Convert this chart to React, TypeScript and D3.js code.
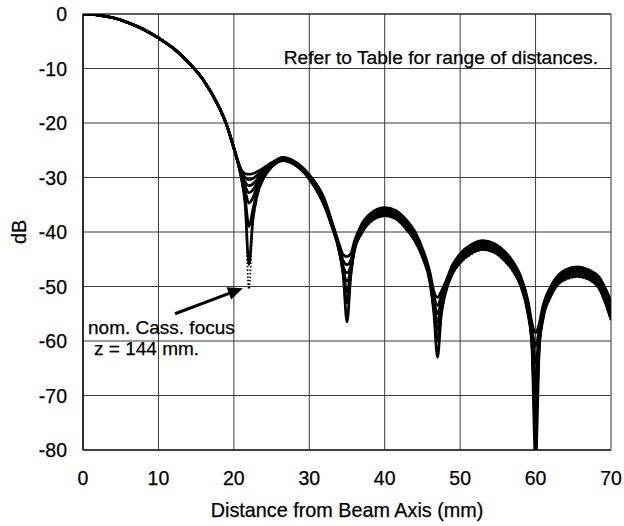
import React from "react";
import * as d3 from "d3";

// ---------- data ----------
const DIST = [0, 2, 4, 6, 8, 10, 12, 14, 16, 18, 19, 20, 20.5, 21, 21.5, 22, 22.5, 23, 24, 25, 26.5, 28, 30, 32, 33, 34, 34.5, 35, 35.5, 36, 37, 38.5, 40, 41.5, 43, 44, 45, 46, 46.5, 47, 47.5, 48, 49, 50, 51.5, 53, 54.5, 56, 57, 58, 59, 59.5, 60, 60.5, 61, 62, 63, 64, 65.5, 67, 68.5, 70];

const S1 = [0, -0.2, -0.7, -1.6, -2.8, -4.4, -6.3, -8.9, -12.2, -17.0, -20.2, -24.6, -26.8, -28.6, -29.3, -29.4, -29.3, -29.0, -28.2, -27.3, -26.3, -27.0, -29.5, -33.9, -38.1, -42.4, -44.2, -44.5, -44.0, -41.6, -38.4, -36.2, -35.5, -36.1, -38.0, -39.9, -43.0, -47.4, -50.8, -52.0, -50.9, -49.4, -46.0, -44.0, -42.3, -41.6, -42.1, -43.7, -45.4, -48.0, -52.6, -56.5, -58.5, -56.7, -53.4, -50.0, -47.9, -46.9, -46.4, -46.9, -48.4, -52.7];
const S2 = [0, -0.2, -0.7, -1.6, -2.8, -4.4, -6.3, -8.9, -12.2, -17.0, -20.2, -24.6, -26.9, -29.0, -30.0, -30.4, -30.2, -29.7, -28.6, -27.5, -26.4, -27.1, -29.6, -34.1, -38.3, -42.7, -45.3, -46.0, -45.2, -42.1, -38.8, -36.6, -35.9, -36.5, -38.4, -40.3, -43.4, -47.9, -51.6, -53.5, -51.8, -49.9, -46.4, -44.4, -42.7, -42.0, -42.5, -44.1, -45.8, -48.4, -53.2, -57.5, -61.0, -57.8, -54.0, -50.4, -48.3, -47.3, -46.8, -47.3, -48.8, -53.4];
const S3 = [0, -0.2, -0.7, -1.6, -2.8, -4.4, -6.3, -8.9, -12.2, -17.0, -20.2, -24.6, -27.0, -29.3, -30.8, -31.5, -31.2, -30.5, -28.9, -27.7, -26.5, -27.2, -29.8, -34.4, -38.5, -43.0, -46.3, -47.5, -46.2, -42.4, -39.0, -36.8, -36.1, -36.7, -38.7, -40.6, -43.6, -48.2, -52.4, -55.0, -52.6, -50.2, -46.6, -44.6, -42.9, -42.2, -42.7, -44.4, -46.1, -48.7, -53.6, -58.3, -64.0, -58.7, -54.4, -50.7, -48.5, -47.5, -47.0, -47.5, -49.1, -53.8];
const S4 = [0, -0.2, -0.7, -1.6, -2.8, -4.4, -6.3, -8.9, -12.2, -17.0, -20.2, -24.6, -27.0, -29.5, -31.6, -32.8, -32.3, -31.2, -29.2, -27.8, -26.6, -27.3, -29.9, -34.6, -38.6, -43.2, -47.0, -49.0, -47.0, -42.6, -39.3, -37.0, -36.3, -36.9, -38.9, -40.8, -43.8, -48.5, -53.0, -56.5, -53.3, -50.5, -46.8, -44.8, -43.1, -42.4, -42.9, -44.6, -46.3, -49.0, -54.0, -59.0, -67.0, -59.4, -54.8, -51.0, -48.7, -47.8, -47.3, -47.8, -49.4, -54.3];
const S5 = [0, -0.2, -0.7, -1.6, -2.8, -4.4, -6.3, -8.9, -12.2, -17.0, -20.2, -24.6, -27.0, -29.7, -32.5, -34.7, -33.8, -32.0, -29.5, -27.9, -26.7, -27.4, -30.0, -34.8, -38.7, -43.4, -47.0, -51.0, -47.0, -42.8, -39.5, -37.1, -36.4, -37.0, -39.1, -41.0, -44.0, -48.7, -53.5, -58.0, -53.9, -50.8, -47.0, -45.0, -43.3, -42.6, -43.1, -44.8, -46.5, -49.2, -54.3, -59.5, -70.0, -60.0, -55.1, -51.2, -48.9, -48.0, -47.5, -48.0, -49.7, -54.8];
const S6 = [0, -0.2, -0.7, -1.6, -2.8, -4.4, -6.3, -8.9, -12.2, -17.0, -20.2, -24.6, -27.1, -30.0, -33.8, -39.0, -36.0, -33.0, -29.8, -28.0, -26.8, -27.5, -30.1, -35.0, -38.9, -43.6, -47.5, -53.0, -47.5, -43.0, -39.7, -37.3, -36.6, -37.2, -39.3, -41.2, -44.2, -48.9, -54.0, -60.0, -54.5, -51.1, -47.2, -45.2, -43.5, -42.8, -43.3, -45.0, -46.7, -49.4, -54.6, -60.0, -75.0, -60.6, -55.4, -51.4, -49.1, -48.2, -47.7, -48.2, -50.0, -55.3];
const S7 = [0, -0.2, -0.7, -1.6, -2.8, -4.4, -6.3, -8.9, -12.2, -17.0, -20.2, -24.6, -27.1, -30.2, -35.0, -46.0, -38.0, -33.8, -30.0, -28.1, -26.9, -27.6, -30.3, -35.2, -39.0, -43.8, -48.0, -56.5, -48.1, -43.4, -40.1, -37.7, -37.0, -37.6, -39.7, -41.6, -44.6, -49.3, -54.6, -63.0, -55.2, -51.5, -47.6, -45.6, -43.9, -43.2, -43.7, -45.4, -47.1, -49.8, -55.1, -60.6, -82.0, -61.2, -55.9, -51.8, -49.5, -48.6, -48.1, -48.6, -50.5, -56.0];
const NOMINAL = [0, -0.2, -0.7, -1.6, -2.8, -4.4, -6.3, -8.9, -12.2, -17.0, -20.2, -24.6, -27.1, -30.3, -35.5, -50.5, -39.0, -34.2, -30.1, -28.1, -27.0, -27.7, -30.4, -35.4, -39.1, -44.0, -48.2, -56.0, -48.4, -43.6, -40.3, -37.8, -37.1, -37.7, -39.9, -41.8, -44.8, -49.5, -54.8, -62.5, -55.4, -51.7, -47.8, -45.8, -44.1, -43.3, -43.8, -45.6, -47.3, -50.0, -55.4, -60.8, -80.0, -61.4, -56.2, -52.0, -49.7, -48.8, -48.3, -48.8, -50.8, -56.4];

const SOLID_SERIES = [S1, S2, S3, S4, S5, S6, S7];

const X_TICKS = [0, 10, 20, 30, 40, 50, 60, 70];
const Y_TICKS = [0, -10, -20, -30, -40, -50, -60, -70, -80];

const X_TITLE = "Distance from Beam Axis (mm)";
const Y_TITLE = "dB";
const NOTE = "Refer to Table for range of distances.";
const ANNOT_1 = "nom. Cass. focus";
const ANNOT_2 = "z = 144 mm.";

// ---------- layout ----------
const W = 624;
const H = 526;
const L = 83;
const T = 14;
const R = 611;
const B = 450;
const FONT = "'Liberation Sans', Arial, Helvetica, sans-serif";

export default function App() {
  const x = d3.scaleLinear().domain([0, 70]).range([L, R]);
  const y = d3.scaleLinear().domain([-80, 0]).range([B, T]);

  const line = d3
    .line<number>()
    .x((_, i) => x(DIST[i]))
    .y((d) => y(d))
    .curve(d3.curveMonotoneX);

  // arrow annotation (in data units)
  const tip = [x(21.2), y(-50.3)];
  const tail = [x(12.2), y(-55.0)];
  const dx = tip[0] - tail[0];
  const dy = tip[1] - tail[1];
  const len = Math.hypot(dx, dy);
  const ux = dx / len;
  const uy = dy / len;
  const headL = 15;
  const headW = 6.5;
  const bx = tip[0] - ux * headL;
  const by = tip[1] - uy * headL;
  const px = -uy;
  const py = ux;
  const head = `${tip[0]},${tip[1]} ${bx + px * headW},${by + py * headW} ${bx - px * headW},${by - py * headW}`;

  const textStyle = { stroke: "#000", strokeWidth: 0.25 };

  return (
    <svg
      width={W}
      height={H}
      style={{ position: "absolute", left: 0, top: 0, background: "#fff" }}
      fontFamily={FONT}
    >
      <defs>
        <clipPath id="plotClip">
          <rect x={L} y={T} width={R - L} height={B - T} />
        </clipPath>
      </defs>

      {/* grid */}
      {X_TICKS.map((t) => (
        <line key={"gx" + t} x1={x(t)} x2={x(t)} y1={T} y2={B} stroke="#3a3a3a" strokeWidth={1} />
      ))}
      {Y_TICKS.map((t) => (
        <line key={"gy" + t} x1={L} x2={R} y1={y(t)} y2={y(t)} stroke="#3a3a3a" strokeWidth={1} />
      ))}
      {/* frame */}
      <line x1={L} x2={L} y1={T} y2={B} stroke="#000" strokeWidth={1.4} />
      <line x1={L} x2={R} y1={B} y2={B} stroke="#222" strokeWidth={1.4} />
      <line x1={L} x2={R} y1={T} y2={T} stroke="#222" strokeWidth={1.2} />
      <line x1={R} x2={R} y1={T} y2={B} stroke="#888" strokeWidth={1} strokeDasharray="2 1" />

      {/* curves */}
      <g clipPath="url(#plotClip)" fill="none">
        {SOLID_SERIES.map((s, i) => (
          <path key={"s" + i} d={line(s) || ""} stroke="#000" strokeWidth={2.7} strokeLinejoin="round" />
        ))}
        <path d={line(NOMINAL) || ""} stroke="#000" strokeWidth={1.7} strokeDasharray="1.5 2" />
      </g>

      {/* tick labels */}
      {X_TICKS.map((t) => (
        <text key={"tx" + t} x={x(t)} y={485} textAnchor="middle" fontSize={19.5} fill="#000" style={textStyle}>
          {t}
        </text>
      ))}
      {Y_TICKS.map((t) => (
        <text key={"ty" + t} x={67} y={y(t)} dy="0.36em" textAnchor="end" fontSize={19.5} fill="#000" style={textStyle}>
          {t}
        </text>
      ))}

      {/* titles */}
      <text x={(L + R) / 2} y={517} textAnchor="middle" fontSize={19.8} fill="#000" style={textStyle}>
        {X_TITLE}
      </text>
      <text
        transform={`translate(26, ${(T + B) / 2}) rotate(-90)`}
        textAnchor="middle"
        fontSize={19.8}
        fill="#000"
        style={textStyle}
      >
        {Y_TITLE}
      </text>

      <text x={598} y={64} textAnchor="end" fontSize={19.2} fill="#000" style={textStyle}>
        {NOTE}
      </text>

      {/* annotation */}
      <line x1={tail[0]} y1={tail[1]} x2={bx + ux * 1} y2={by + uy * 1} stroke="#000" strokeWidth={3} />
      <polygon points={head} fill="#000" />
      <text x={88} y={334} fontSize={19} fill="#000" style={textStyle}>
        {ANNOT_1}
      </text>
      <text x={94} y={355} fontSize={19} fill="#000" style={textStyle}>
        {ANNOT_2}
      </text>
    </svg>
  );
}
